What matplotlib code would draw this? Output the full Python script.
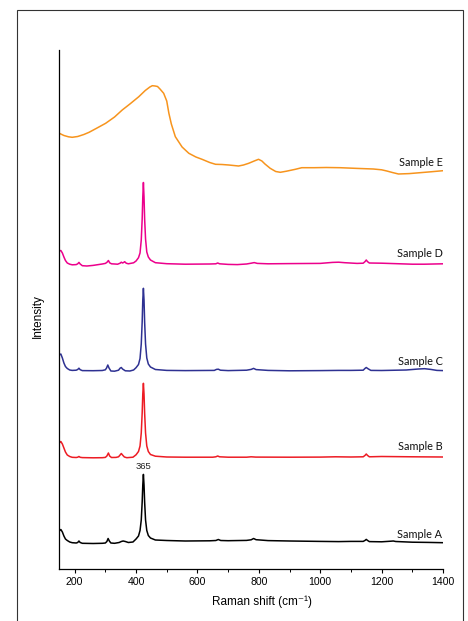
import matplotlib
matplotlib.use("Agg")
import matplotlib.pyplot as plt
from matplotlib.patches import Rectangle
from matplotlib.ticker import MultipleLocator

# ---------------- data (arbitrary intensity units, stacked offsets included) -------------
shift_a = [150,155,160,165,170,176,184,192,205,210,214,218,225,260,290,300,305,309,313,318,330,345,352,358,365,375,390,
           400,408,413,417,420,422,424,426,428,431,435,440,447,463,500,560,640,660,668,676,700,760,775,783,791,830,900,
           1000,1060,1100,1140,1146,1150,1154,1160,1200,1230,1238,1246,1300,1350,1400]
int_a = [38,39.5,37,33,30,28.5,27,26.3,26,26.5,28,26.5,25.7,25.5,25.7,26,27.5,30.5,28,26,25.7,26.5,27.5,28,27.5,26.5,27,
         30,33,38.5,49,67,84,94.6,84,67,49,38.5,33.5,31,29,28.5,28,28.2,28.5,29.5,28.5,28.3,28.6,29.2,30.5,29.3,28.4,28,
         27.6,27.4,27.6,27.6,28.6,29.6,28.6,27.4,27.2,27.8,28,27.5,26.8,26.6,26.3]

shift_b = [150,155,160,165,170,176,184,192,205,210,214,218,225,260,290,300,305,310,314,320,335,343,348,352,356,362,370,390,
           400,408,413,417,420,422,424,426,428,431,435,440,447,463,500,560,650,660,666,672,700,760,775,790,900,1000,1050,
           1100,1140,1146,1150,1154,1160,1200,1300,1400]
int_b = [126,127.5,125,121,117,114,112.5,111.7,111.5,111.8,112.5,111.7,111.4,111.2,111.3,111.6,113,116,113,111.5,111.6,112.2,
         114,115.5,114,112,111.3,111.8,114.2,117.5,123,136,156,175,185.7,175,156,136,123,117.5,114.5,112.8,112,111.8,111.8,
         112.2,113,112.2,111.8,111.8,112.2,111.9,111.8,111.9,112.2,112,112.2,113.6,115,113.6,112.2,112.5,112.2,112]

shift_c = [150,155,160,165,170,176,184,192,205,210,214,218,225,260,290,300,304,308,312,318,330,343,348,352,356,365,380,392,
           400,408,413,417,420,422,424,426,428,431,435,440,447,463,500,560,655,662,668,675,700,760,775,783,791,830,900,
           1000,1060,1100,1140,1146,1150,1156,1165,1200,1280,1320,1340,1360,1380,1400]
int_c = [214,215,211,206,202.5,200.5,199,198.6,198.8,199.5,200.8,199.3,198.4,198.3,198.5,199.2,201,204,201,198,197.8,198.8,
         200.8,201.5,200,198.2,198,199,201.3,204.5,210.5,225,247,269,280.7,269,247,225,211,205,202,199.5,198.6,198.4,
         198.6,199.6,199.8,198.8,198.4,198.8,199.6,200.6,199.4,198.6,198.2,198.4,198.6,198.6,198.8,200.6,201.5,200.2,
         198.6,198.5,199,200,200.3,199.6,198.6,198.4]

shift_d = [150,155,160,165,170,176,184,192,205,210,214,218,225,240,260,290,300,305,310,314,320,340,348,352,356,360,363,368,
           375,392,400,408,413,417,420,422,424,426,428,431,435,440,447,463,500,560,640,660,666,672,700,730,760,775,785,795,
           830,900,1000,1040,1060,1080,1120,1140,1146,1150,1154,1160,1200,1260,1300,1340,1400]
int_d = [318,318.5,316,312,308.5,306,304.8,304.2,304.4,305.2,306.6,305,303.3,303,303.6,305,305.6,306.6,308.5,306.2,305.2,
         304.8,305.8,306.8,306,306.6,307.3,305.8,305.2,306.2,308,311.3,316,329,350,372,386.5,372,350,330,317,312,
         309,306.3,305.3,304.8,305,305.2,306,305.2,304.6,304.4,305,305.8,306.4,305.6,305.2,305.4,305.6,306.6,306.8,
         306.3,305.6,305.8,307.4,309,307.4,306,305.8,305.2,304.8,304.8,305.2]

shift_e = [150,165,180,192,210,230,247,270,301,330,355,380,409,430,445,453,462,470,478,490,500,507,515,528,550,572,595,615,
           640,659,680,702,734,750,767,785,799,810,820,837,855,870,890,919,940,980,1020,1065,1120,1173,1200,1217,1235,
           1255,1290,1325,1360,1400]
int_e = [435.7,433.5,432.2,431.7,432.5,434.5,436.7,440.5,445.7,452,459,465,472.3,478.5,482,483.3,483,482.5,480,475.7,468,
         455.7,445,432.3,422,415.7,412,409.7,406.5,404.7,404.5,404,403,404,405.7,408,409.7,408,405,400.7,397.5,396.7,
         397.8,399.7,401.3,401.3,401.5,401.3,400.6,400,399.2,398,396.5,395,395.4,396.3,397.2,398.3]

sample_names = ["Sample A", "Sample B", "Sample C", "Sample D", "Sample E"]
label_y = [31, 119.5, 204, 312, 403]
peak_label = "365"
peak_label_pos = (424, 100)
x_ticks = [200, 400, 600, 800, 1000, 1200, 1400]

colors = ["#000000", "#ed1c24", "#2e3192", "#ec008c", "#f7941d"]
series = [(shift_a, int_a), (shift_b, int_b), (shift_c, int_c), (shift_d, int_d), (shift_e, int_e)]

# ---------------- figure ----------------
W, H = 468, 621
fig = plt.figure(figsize=(W / 100, H / 100), dpi=100)
fig.patches.append(Rectangle((17 / W, -0.05), (463 - 17) / W, 1.05 - 9.5 / H,
                             transform=fig.transFigure, fill=False, edgecolor="#333333", lw=0.8))

ax = fig.add_axes([59.3 / W, 1 - 569 / H, (443 - 59.3) / W, (569 - 49.5) / H])
for (xs, ys), c in zip(series, colors):
    ax.plot(xs, ys, color=c, lw=1.1, solid_joinstyle="round")

ax.set_xlim(150, 1400)
ax.set_ylim(0, 519.5)
ax.set_xticks(x_ticks)
ax.xaxis.set_minor_locator(MultipleLocator(100))
ax.set_yticks([])
for s in ["top", "right"]:
    ax.spines[s].set_visible(False)
for s in ["left", "bottom"]:
    ax.spines[s].set_linewidth(0.9)
ax.tick_params(axis="x", which="major", direction="out", length=3, width=0.8, pad=2.5,
               labelsize=7.6, labelfontfamily="Liberation Sans")
ax.tick_params(axis="x", which="minor", direction="out", length=2, width=0.7)

for name, ly in zip(sample_names, label_y):
    ax.text(1398, ly, name, ha="right", va="baseline", fontsize=7.8, family=["Lato", "DejaVu Sans"], color="#111111")
ax.text(peak_label_pos[0], peak_label_pos[1], peak_label, ha="center", va="baseline", fontsize=6.8,
        family=["Liberation Sans", "DejaVu Sans"], color="#222222")

fig.text(261.5 / W, 1 - 605 / H, "Raman shift (cm\u207b\u00b9)", ha="center", va="baseline", fontsize=8.5,
         family=["Liberation Sans", "DejaVu Sans"])
fig.text(38 / W, 1 - 316 / H, "Intensity", ha="center", va="center", rotation=90, fontsize=8.5,
         family=["Liberation Sans", "DejaVu Sans"])

fig.savefig("out.png", dpi=100)
